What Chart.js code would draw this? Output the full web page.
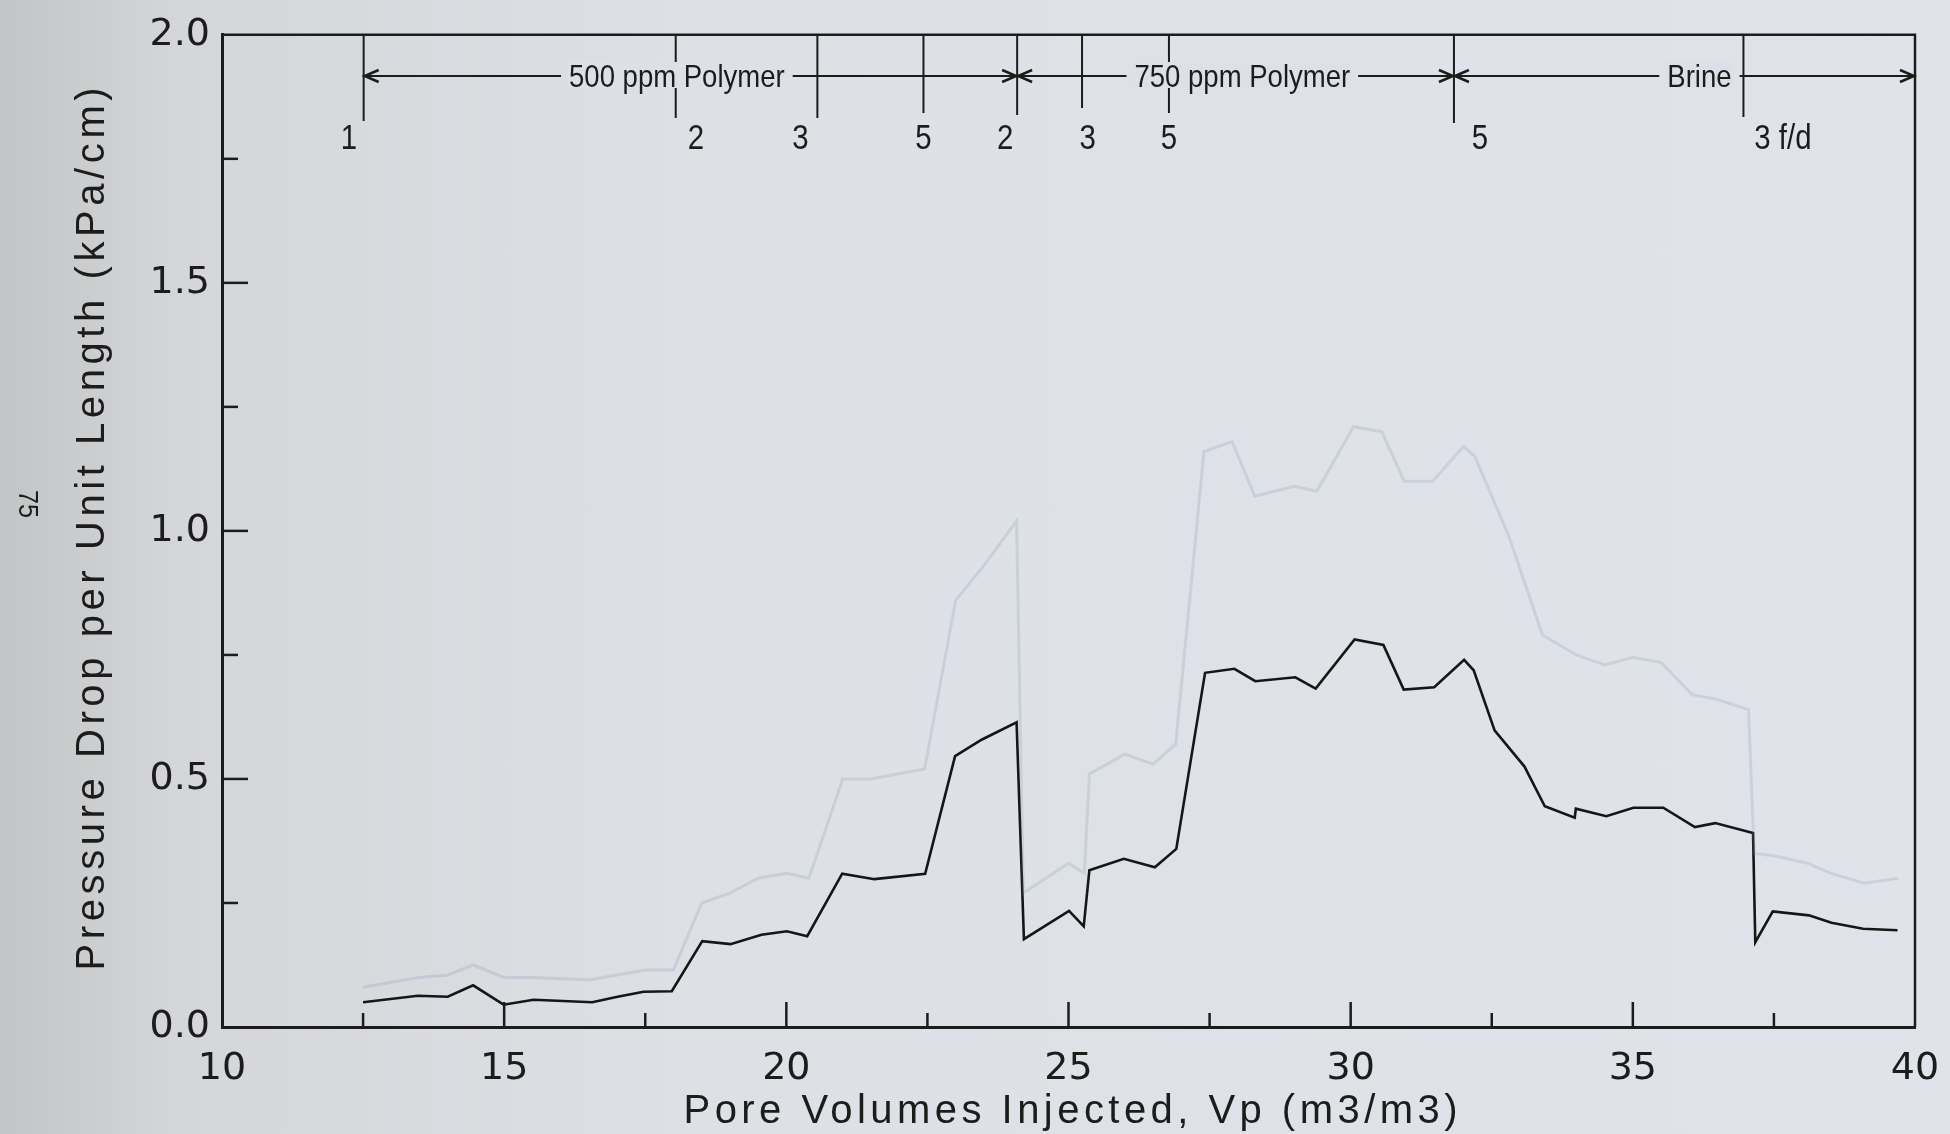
<!DOCTYPE html>
<html>
<head>
<meta charset="utf-8">
<script src="https://cdn.jsdelivr.net/npm/chart.js"></script>
<style>
  html, body { margin: 0; padding: 0; }
  body {
    width: 1950px; height: 1134px; overflow: hidden;
    background: linear-gradient(90deg, #c3c4c5 0px, #d4d6d9 180px, #dde0e5 700px, #e0e4ea 1950px);
  }
  #wrap { position: relative; width: 1950px; height: 1134px; }
</style>
</head>
<body>
<div id="wrap"><canvas id="myChart"></canvas></div>
<script>
// pressure drop curve (dark trace)
let darkPV = [12.5, 13.47, 14.0, 14.45, 14.99, 15.52, 16.56, 17.01, 17.47, 17.97, 18.51, 19.01, 19.56, 20.01, 20.37,
  20.99, 21.56, 22.46, 22.99, 23.46, 24.08, 24.21, 25.01, 25.27, 25.37, 25.98, 26.53, 26.91, 27.42, 27.94, 28.31,
  29.02, 29.38, 30.07, 30.58, 30.94, 31.48, 32.01, 32.18, 32.55, 33.08, 33.44, 33.97, 33.99, 34.53, 35.01, 35.54,
  36.10, 36.46, 37.13, 37.17, 37.48, 38.12, 38.52, 39.08, 39.69];
let darkDP = [0.050, 0.063, 0.061, 0.084, 0.045, 0.055, 0.050, 0.061, 0.071, 0.072, 0.173, 0.167, 0.186, 0.193, 0.183,
  0.309, 0.298, 0.309, 0.546, 0.579, 0.614, 0.177, 0.234, 0.203, 0.316, 0.339, 0.322, 0.359, 0.714, 0.722, 0.697,
  0.705, 0.682, 0.781, 0.770, 0.680, 0.685, 0.740, 0.719, 0.598, 0.525, 0.445, 0.422, 0.440, 0.425, 0.442, 0.442,
  0.403, 0.411, 0.391, 0.171, 0.233, 0.225, 0.210, 0.198, 0.195];

// faint trace (show-through)
let faintPV = [12.5, 13.5, 14.0, 14.45, 15.0, 15.5, 16.5, 17.0, 17.5, 18.0, 18.5, 19.0, 19.5, 20.0, 20.4, 21.0, 21.5,
  22.45, 23.0, 23.5, 24.08, 24.2, 25.0, 25.28, 25.37, 26.0, 26.5, 26.9, 27.4, 27.9, 28.3, 29.0, 29.4, 30.05, 30.55,
  30.95, 31.45, 32.0, 32.2, 32.8, 33.4, 34.0, 34.5, 35.0, 35.5, 36.05, 36.5, 37.05, 37.15, 37.5, 38.1, 38.5, 39.1, 39.7];
let faintDP = [0.08, 0.10, 0.105, 0.125, 0.10, 0.10, 0.095, 0.105, 0.115, 0.115, 0.25, 0.27, 0.30, 0.31, 0.30, 0.50, 0.50,
  0.52, 0.86, 0.93, 1.02, 0.27, 0.33, 0.31, 0.51, 0.55, 0.53, 0.57, 1.16, 1.18, 1.07, 1.09, 1.08, 1.21, 1.20,
  1.10, 1.10, 1.17, 1.15, 0.99, 0.79, 0.75, 0.73, 0.745, 0.735, 0.67, 0.66, 0.64, 0.35, 0.345, 0.33, 0.31, 0.29, 0.30];

// flow rate changes along the top
let eventPV = [12.51, 18.04, 20.55, 22.43, 24.09, 25.24, 26.78, 31.83, 36.96];
let eventLabels = ['1', '2', '3', '5', '2', '3', '5', '5', '3 f/d'];
let eventLabelPV = [12.25, 18.40, 20.25, 22.43, 23.88, 25.34, 26.78, 32.29, 37.66];

// injected fluid phases
let phaseNames = ['500 ppm Polymer', '750 ppm Polymer', 'Brine'];
let phaseStart = [12.51, 24.09, 31.83];
let phaseEnd = [24.09, 31.83, 40];
let phaseTextPV = [18.06, 28.08, 36.18];

let xTitle = 'Pore Volumes Injected, Vp (m3/m3)';
let yTitle = 'Pressure Drop per Unit Length (kPa/cm)';
let pageNumber = '75';

function toPoints(xs, ys) {
    return xs.map((x, i) => ({ x: x, y: ys[i] }));
}

const ink = '#1c1c1c';

function condensedText(ctx, text, x, y, squeeze) {
    ctx.save();
    ctx.translate(x, y);
    ctx.scale(squeeze, 1);
    ctx.fillText(text, 0, 0);
    ctx.restore();
}

function spacedText(ctx, text, x, y, targetW) {
    ctx.letterSpacing = '0px';
    let w = ctx.measureText(text).width;
    let sp = Math.max(0, (targetW - w) / (text.length - 1));
    ctx.letterSpacing = sp + 'px';
    ctx.textAlign = 'center';
    ctx.fillText(text, x + sp / 2, y);
    ctx.letterSpacing = '0px';
}

const plotDecor = {
    id: 'plotDecor',
    afterDraw(chart) {
        const ctx = chart.ctx;
        const area = chart.chartArea;
        const xs = chart.scales.x;
        const ys = chart.scales.y;
        ctx.save();
        ctx.strokeStyle = ink;
        ctx.fillStyle = ink;

        // top and right border
        ctx.lineWidth = 2.5;
        ctx.beginPath();
        ctx.moveTo(area.left, area.top);
        ctx.lineTo(area.right, area.top);
        ctx.lineTo(area.right, area.bottom);
        ctx.stroke();

        // inward tick marks
        ctx.lineWidth = 2.5;
        xs.ticks.forEach(t => {
            if (t.value <= xs.min || t.value >= xs.max) return;
            let len = (t.value % 5 === 0) ? 25 : 14;
            let px = xs.getPixelForValue(t.value);
            ctx.beginPath();
            ctx.moveTo(px, area.bottom);
            ctx.lineTo(px, area.bottom - len);
            ctx.stroke();
        });
        ys.ticks.forEach(t => {
            if (t.value <= ys.min || t.value >= ys.max) return;
            let major = Math.abs(t.value * 2 - Math.round(t.value * 2)) < 1e-9;
            let len = major ? 26 : 16;
            let py = ys.getPixelForValue(t.value);
            ctx.beginPath();
            ctx.moveTo(area.left, py);
            ctx.lineTo(area.left + len, py);
            ctx.stroke();
        });

        // flow rate markers
        const lineBottoms = [121, 118, 118, 113, 115, 108, 113, 123, 117];
        ctx.lineWidth = 2;
        eventPV.forEach((v, i) => {
            let px = xs.getPixelForValue(v);
            ctx.beginPath();
            ctx.moveTo(px, area.top);
            ctx.lineTo(px, lineBottoms[i]);
            ctx.stroke();
        });
        ctx.font = '35px "Liberation Sans", Arial, sans-serif';
        ctx.textAlign = 'center';
        ctx.textBaseline = 'middle';
        eventLabels.forEach((lab, i) => {
            condensedText(ctx, lab, xs.getPixelForValue(eventLabelPV[i]), 139, 0.84);
        });

        // phase arrows
        const arrowY = 76;
        ctx.font = '32px "Liberation Sans", Arial, sans-serif';
        phaseNames.forEach((name, i) => {
            let x0 = xs.getPixelForValue(phaseStart[i]);
            let x1 = xs.getPixelForValue(phaseEnd[i]);
            let tc = xs.getPixelForValue(phaseTextPV[i]);
            let w = ctx.measureText(name).width * 0.86;
            ctx.lineWidth = 2;
            ctx.beginPath();
            ctx.moveTo(x0, arrowY);
            ctx.lineTo(tc - w / 2 - 8, arrowY);
            ctx.moveTo(tc + w / 2 + 8, arrowY);
            ctx.lineTo(x1 - 1, arrowY);
            ctx.stroke();
            ctx.lineWidth = 2.5;
            ctx.beginPath();
            ctx.moveTo(x0 + 15, arrowY - 6);
            ctx.lineTo(x0 + 1, arrowY);
            ctx.lineTo(x0 + 15, arrowY + 6);
            ctx.moveTo(x1 - 15, arrowY - 6);
            ctx.lineTo(x1 - 1, arrowY);
            ctx.lineTo(x1 - 15, arrowY + 6);
            ctx.stroke();
            ctx.save();
            ctx.fillStyle = '#dde0e6';
            ctx.fillRect(tc - w / 2 - 2, arrowY - 14, w + 4, 26);
            ctx.restore();
            condensedText(ctx, name, tc, arrowY + 2, 0.86);
        });

        // axis titles
        ctx.font = '40px "Liberation Sans", Arial, sans-serif';
        ctx.textBaseline = 'alphabetic';
        spacedText(ctx, xTitle, (area.left + area.right) / 2 + 2, 1123, 774);
        ctx.save();
        ctx.translate(104, (area.top + area.bottom) / 2 - 2);
        ctx.rotate(-Math.PI / 2);
        spacedText(ctx, yTitle, 0, 0, 883);
        ctx.restore();

        // page number
        ctx.save();
        ctx.translate(27, 504);
        ctx.rotate(Math.PI / 2);
        ctx.font = '28px "Liberation Sans", Arial, sans-serif';
        ctx.textAlign = 'center';
        ctx.textBaseline = 'middle';
        condensedText(ctx, pageNumber, 0, 0, 0.9);
        ctx.restore();

        ctx.restore();
    }
};

let ctx = document.getElementById('myChart').getContext('2d');
let myChart = new Chart(ctx, {
    type: 'line',
    data: {
        datasets: [
            {
                label: 'Faint trace',
                data: toPoints(faintPV, faintDP),
                borderColor: 'rgba(120, 140, 170, 0.2)',
                borderWidth: 3,
                pointRadius: 0,
                fill: false
            },
            {
                label: 'Pressure drop',
                data: toPoints(darkPV, darkDP),
                borderColor: '#161616',
                borderWidth: 2.6,
                pointRadius: 0,
                fill: false
            }
        ]
    },
    options: {
        responsive: true,
        maintainAspectRatio: false,
        animation: false,
        devicePixelRatio: 1,
        layout: { padding: { left: 0, right: 35, top: 27, bottom: 0 } },
        plugins: {
            legend: { display: false },
            tooltip: { enabled: false }
        },
        scales: {
            x: {
                type: 'linear',
                min: 10,
                max: 40,
                afterFit: s => { s.height = 107; s.paddingRight = 0; s.paddingLeft = 0; },
                grid: { display: true, drawOnChartArea: false, drawTicks: false },
                border: { display: true, color: ink, width: 3 },
                ticks: {
                    stepSize: 2.5,
                    autoSkip: false,
                    maxRotation: 0,
                    padding: 19,
                    color: ink,
                    font: { family: '"DejaVu Sans", sans-serif', size: 38 },
                    callback: v => (v % 5 === 0 ? String(v) : '')
                }
            },
            y: {
                min: 0,
                max: 2,
                afterFit: s => { s.width = 222; },
                grid: { display: true, drawOnChartArea: false, drawTicks: false },
                border: { display: true, color: ink, width: 3 },
                ticks: {
                    stepSize: 0.25,
                    autoSkip: false,
                    padding: 12,
                    color: ink,
                    font: { family: '"DejaVu Sans", sans-serif', size: 38 },
                    callback: v => (Math.abs(v * 2 - Math.round(v * 2)) < 1e-9 ? v.toFixed(1) : '')
                }
            }
        }
    },
    plugins: [plotDecor]
});
</script>
</body>
</html>
